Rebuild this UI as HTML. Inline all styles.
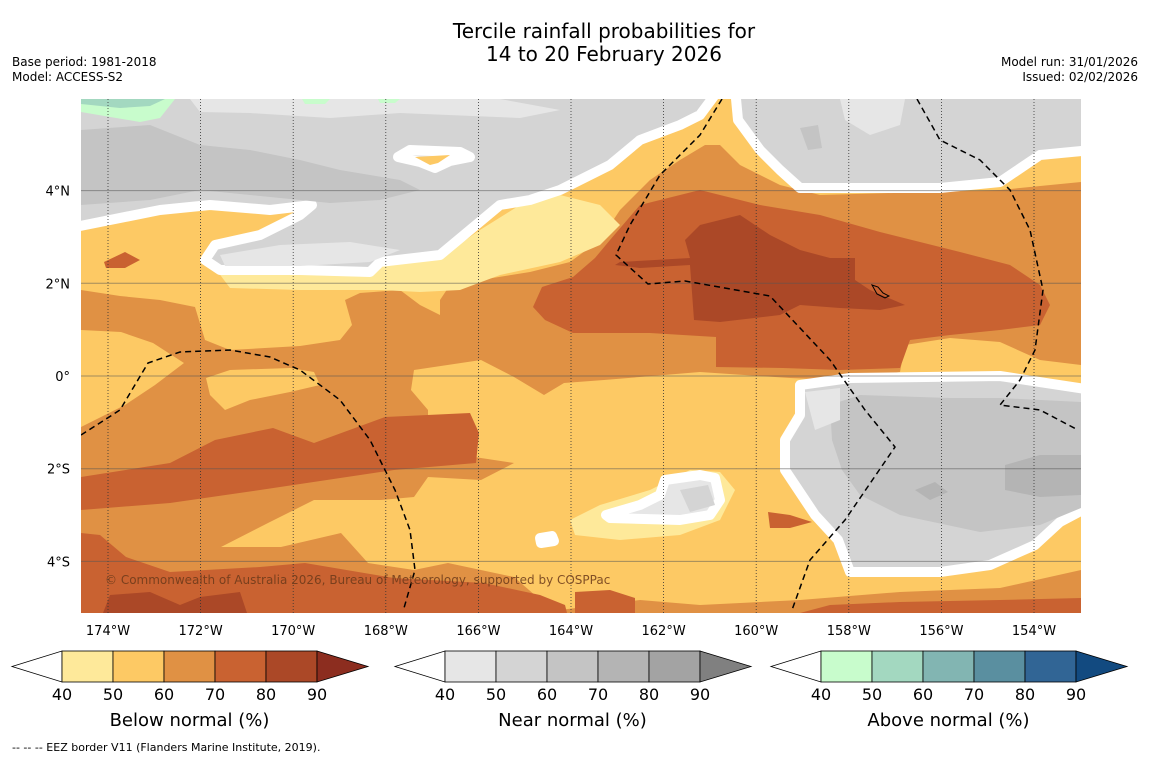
<!DOCTYPE html>
<html><head><meta charset="utf-8"><style>
html,body{margin:0;padding:0;background:#fff;width:1150px;height:758px;overflow:hidden;font-family:"Liberation Sans","DejaVu Sans",sans-serif}
svg text{font-family:"DejaVu Sans","Liberation Sans",sans-serif}
</style></head><body>
<svg id="fig" width="1150" height="758" viewBox="0 0 1150 758" xmlns="http://www.w3.org/2000/svg">
<rect width="1150" height="758" fill="#fff"/>
<text x="604" y="38" font-size="20" text-anchor="middle" fill="#000">Tercile rainfall probabilities for</text>
<text x="604" y="61" font-size="20" text-anchor="middle" fill="#000">14 to 20 February 2026</text>
<text x="12" y="66" font-size="12">Base period: 1981-2018</text>
<text x="12" y="81" font-size="12">Model: ACCESS-S2</text>
<text x="1138" y="66" font-size="12" text-anchor="end">Model run: 31/01/2026</text>
<text x="1138" y="81" font-size="12" text-anchor="end">Issued: 02/02/2026</text>

<defs><clipPath id="mc"><rect x="81" y="99" width="1000" height="514"/></clipPath></defs>
<g clip-path="url(#mc)">
<rect x="81" y="99" width="1000" height="514" fill="#e09144"/>
<polygon fill="#fdc964" points="81,99 1081,99 1081,182 1000,190 820,195 780,185 740,165 720,145 705,145 680,160 650,180 620,210 600,240 570,262 530,272 480,280 450,285 440,300 440,315 420,305 400,290 360,293 345,300 352,325 340,340 300,346 230,350 205,340 195,307 160,300 120,296 81,290"/>
<polygon fill="#fdc964" points="81,330 121,332 153,343 184,363 155,385 125,405 81,427"/>
<polygon fill="#fdc964" points="206,378 230,370 290,368 314,372 320,385 290,392 250,400 225,410 210,395"/>
<polygon fill="#fdc964" points="411,390 414,370 481,360 514,377 544,395 564,383 604,380 700,372 790,378 840,380 900,372 905,345 950,338 1000,342 1040,360 1081,365 1081,570 1000,588 900,592 800,600 700,605 640,600 600,605 560,610 544,603 514,577 448,563 414,570 368,563 341,533 281,547 221,547 268,523 314,500 381,500 414,497 428,477 481,480 514,463 428,450 428,410"/>
<polygon fill="#c96231" points="81,477 170,463 215,440 273,428 314,443 385,417 470,413 479,433 476,463 394,470 260,490 170,503 81,510"/>
<polygon fill="#c96231" points="81,533 100,535 126,557 170,572 260,567 305,563 394,578 484,583 540,595 565,605 567,613 81,613"/>
<polygon fill="#c96231" points="575,592 610,590 635,598 635,613 575,613"/>
<polygon fill="#c96231" points="800,613 830,605 900,602 1000,600 1081,598 1081,613"/>
<polygon fill="#c96231" points="768,512 790,515 812,522 790,528 770,528"/>
<polygon fill="#c96231" points="533,307 542,287 573,277 595,258 610,240 640,205 700,190 760,205 820,215 880,232 960,252 1010,265 1040,285 1050,305 1040,325 1000,330 950,335 910,340 900,368 840,370 783,368 716,367 716,337 650,333 573,333 545,320"/>
<polygon fill="#c96231" points="104,262 125,252 140,260 125,268 106,268"/>
<polygon fill="#ab4827" points="620,262 690,258 685,240 700,225 740,215 770,235 800,250 830,258 855,258 855,280 870,290 905,305 880,310 840,308 800,305 780,315 720,322 694,320 690,265 640,268 615,265"/>
<polygon fill="#ab4827" points="103,613 110,595 150,592 180,605 200,597 240,592 247,613"/>
<polygon fill="#fee99a" points="215,268 380,265 440,258 480,230 520,205 560,195 600,205 620,225 600,245 560,262 500,275 460,290 420,292 380,290 300,290 230,288"/>
<polygon fill="#fee99a" points="570,520 600,505 650,490 690,470 720,472 735,490 720,520 680,535 620,540 575,535"/>
<polygon fill="#fee99a" points="410,150 460,155 445,165 430,170 410,162"/>
<g stroke="#fff" stroke-width="10" stroke-linejoin="round">
<polygon fill="#d4d4d4" points="70,88 720,88 700,115 680,125 640,140 610,165 560,190 530,200 500,205 470,230 440,255 380,262 370,272 300,270 220,270 205,260 215,245 260,235 300,215 312,205 270,210 210,205 160,210 70,228"/>
<polygon fill="#d4d4d4" points="735,88 1092,88 1092,150 1040,155 1000,182 940,188 800,188 780,170 760,150 738,120"/>
<polygon fill="#d4d4d4" points="800,385 850,378 1000,376 1092,390 1092,505 1060,522 1035,545 990,565 940,572 850,572 838,540 815,515 785,470 785,440 800,415"/>
<polygon fill="#e6e6e6" points="665,480 700,475 715,478 720,500 710,515 680,520 610,518 606,515 640,505 660,495"/>
<polygon fill="#e6e6e6" points="540,538 552,536 554,541 541,543"/>
<polygon fill="#e6e6e6" points="398,157 410,150 460,152 470,157 450,161 435,168 420,162"/>
</g>
<polygon fill="#fdc964" points="415,157 450,155 438,163 430,165"/>
<polygon fill="#e6e6e6" points="190,99 500,99 560,110 520,118 400,113 330,118 250,113 200,112"/>
<polygon fill="#e6e6e6" points="840,99 905,99 900,125 870,135 845,120"/>
<polygon fill="#e6e6e6" points="220,255 280,245 350,242 400,250 370,262 300,266 225,266"/>
<polygon fill="#c4c4c4" points="81,130 150,125 200,145 250,150 300,160 340,170 400,180 420,190 380,200 330,203 250,195 200,190 150,200 81,205"/>
<polygon fill="#c4c4c4" points="800,128 818,125 822,148 808,150"/>
<polygon fill="#c4c4c4" points="830,405 860,395 950,398 1000,398 1081,402 1081,508 1040,525 980,532 900,515 860,495 842,470 832,440"/>
<polygon fill="#e6e6e6" points="805,392 840,388 840,420 815,430"/>
<polygon fill="#b4b4b4" points="1005,465 1040,455 1081,455 1081,495 1040,497 1005,490"/>
<polygon fill="#b4b4b4" points="915,490 935,482 948,492 930,500"/>
<polygon fill="#d4d4d4" points="680,490 708,485 715,505 690,512"/>
<polygon fill="#c8fccc" points="81,99 175,99 160,118 140,122 81,112"/>
<polygon fill="#a3d8c0" points="81,99 165,99 150,106 120,108 81,104"/>
<polygon fill="#c8fccc" points="302,99 330,99 325,104 305,104"/>
<polygon fill="#c8fccc" points="378,99 400,99 395,103 380,103"/>
<g id="grid"></g>
<g fill="none" stroke="#000" stroke-width="1.5" stroke-dasharray="6,4">
<polyline points="81,435 120,410 148,363 180,352 230,350 270,357 300,370 340,400 370,440 395,490 410,530 415,570 404,608"/>
<polyline points="722,99 700,135 660,175 630,225 616,255 648,284 685,281 770,296 830,360 865,410 895,447 845,520 810,560 792,610"/>
<polyline points="917,99 940,140 980,160 1010,190 1030,230 1043,290 1035,350 1020,380 1000,405 1040,410 1078,430"/>
</g>
<path d="M872,285 l6,2 l5,6 l6,3 l-4,2 l-8,-4 z" fill="none" stroke="#000" stroke-width="1"/>
<text x="105" y="584" font-size="12" fill="#6b3a1a" fill-opacity="0.85">© Commonwealth of Australia 2026, Bureau of Meteorology, supported by COSPPac</text>
</g>
<g id="axes"></g>
<g id="cbars"></g>
<text x="12" y="751" font-size="11">--  --  -- EEZ border V11 (Flanders Marine Institute, 2019).</text>
</svg>
<script>
const lonTicks = [-174,-172,-170,-168,-166,-164,-162,-160,-158,-156,-154];
const latTicks = [4,2,0,-2,-4];
const levels = [40,50,60,70,80,90];
const belowColors = ["#fee99a","#fdc964","#e09144","#c96231","#ab4827"];
const belowOver = "#8c2d1f";
const nearColors = ["#e6e6e6","#d4d4d4","#c4c4c4","#b4b4b4","#a3a3a3"];
const nearOver = "#808080";
const aboveColors = ["#c8fccc","#a3d8c0","#82b5b2","#5a8fa0","#316595"];
const aboveOver = "#124a80";
const cbarTitles = ["Below normal (%)","Near normal (%)","Above normal (%)"];

const NS="http://www.w3.org/2000/svg";
const xLon = lon => 108 + (lon + 174) * 46.3;
const yLat = lat => 376 - lat * 46.35;
function mk(tag, attrs, parent){const e=document.createElementNS(NS,tag);for(const k in attrs)e.setAttribute(k,attrs[k]);parent.appendChild(e);return e;}
const grid=document.getElementById('grid'), axes=document.getElementById('axes');
lonTicks.forEach(lon=>{
  const x=xLon(lon);
  const l=mk('line',{x1:x,x2:x,y1:99,y2:613,stroke:'#333','stroke-width':0.8,'stroke-dasharray':'1,2'},grid);
  
  
  const t=mk('text',{x:x,y:635,'font-size':13,'text-anchor':'middle'},axes);
  t.textContent=Math.abs(lon)+'°W';
  
  
});
latTicks.forEach(lat=>{
  const y=yLat(lat);
  const l=mk('line',{x1:81,x2:1081,y1:y,y2:y,stroke:'#555','stroke-opacity':0.55,'stroke-width':1},grid);
  
  
  const t=mk('text',{x:70,y:y+5,'font-size':13,'text-anchor':'end'},axes);
  t.textContent=lat===0?'0°':Math.abs(lat)+'°'+(lat>0?'N':'S');
  
  
});
const cb=document.getElementById('cbars');
const sets=[[belowColors,belowOver,12],[nearColors,nearOver,395],[aboveColors,aboveOver,771]];
sets.forEach((s,i)=>{
  const [cols,over,x0]=s; const bx=x0+50, w=51, y0=651, h=31;
  const g=mk('g',{},cb);
  
  
  const tl=mk('polygon',{points:`${x0},${y0+h/2} ${bx},${y0} ${bx},${y0+h}`,fill:'#fff',stroke:'#000','stroke-width':0.8},g);
  
  
  cols.forEach((c,j)=>{
    const r=mk('rect',{x:bx+j*w,y:y0,width:w,height:h,fill:c,stroke:'#000','stroke-width':0.8},g);
    
    
  });
  const ex=bx+cols.length*w;
  const tr=mk('polygon',{points:`${ex},${y0} ${ex+51},${y0+h/2} ${ex},${y0+h}`,fill:over,stroke:'#000','stroke-width':0.8},g);
  
  
  levels.forEach((v,j)=>{
    const t=mk('text',{x:bx+j*w,y:700,'font-size':16,'text-anchor':'middle'},g);
    t.textContent=v;
    
    
  });
  const tt=mk('text',{x:bx+2.5*w,y:726,'font-size':18,'text-anchor':'middle'},g);
  tt.textContent=cbarTitles[i];
  
  
});
</script>
</body></html>
